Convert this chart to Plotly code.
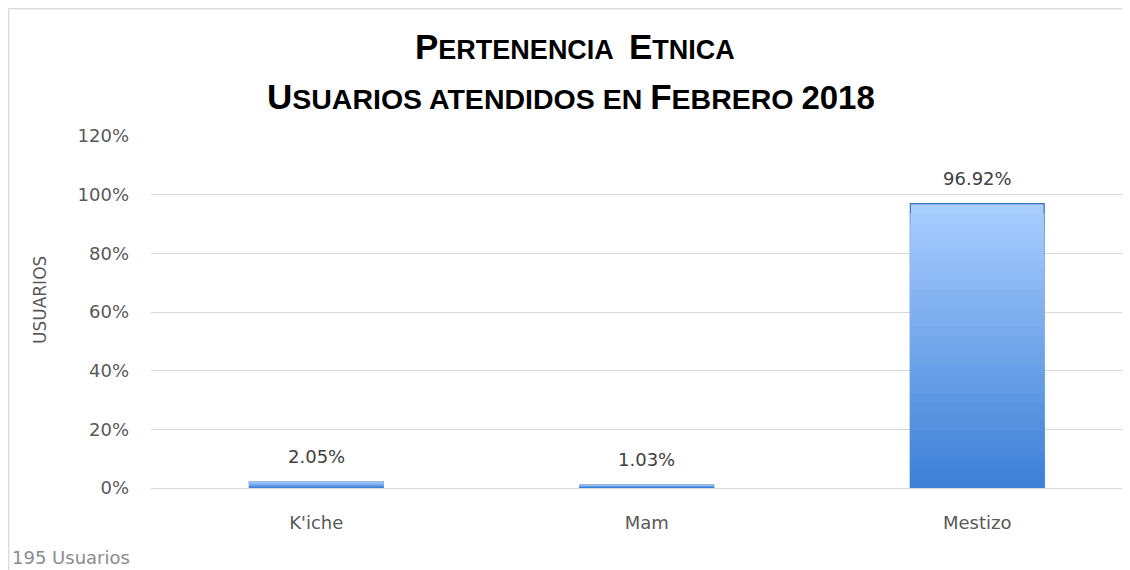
import plotly.graph_objects as go

categories = ["K'iche", "Mam", "Mestizo"]
values = [0.0205, 0.0103, 0.9692]
labels = ["2.05%", "1.03%", "96.92%"]
y_ticks = [0, 0.2, 0.4, 0.6, 0.8, 1.0, 1.2]
y_tick_text = ["0%", "20%", "40%", "60%", "80%", "100%", "120%"]
total_note = "195 Usuarios"

# plot-area geometry (pixels inside the figure)
L, R, T, B = 143, 1130, 128, 480
W, H = R - L, B - T
def px(x):
    return (x - L) / W
def py(y):
    return (B - y) / H

top_rgb = (168, 205, 255)
bot_rgb = (62, 128, 214)
N = 30

fig = go.Figure()
for k in range(N):
    frac = (N - k) / N
    t = k / (N - 1)
    c = tuple(round(top_rgb[i] + (bot_rgb[i] - top_rgb[i]) * t) for i in range(3))
    first = k == 0
    fig.add_trace(go.Bar(
        x=categories,
        y=[v * frac for v in values],
        width=0.405,
        marker=dict(color="rgb(%d,%d,%d)" % c,
                    line=dict(color="#3d6fb3" if first else "rgba(0,0,0,0)",
                              width=1.2 if first else 0)),
        showlegend=False,
        hoverinfo="skip" if not first else None,
    ))

annotations = []
for cat, v, lab in zip(categories, values, labels):
    annotations.append(dict(
        x=cat, y=v, text=lab, xref="x", yref="y", showarrow=False,
        yanchor="middle", yshift=25,
        font=dict(family="DejaVu Sans", size=18, color="#404040"),
    ))

big = "font-size:35px"
big2 = "font-size:33px"
annotations += [
    dict(text=("<b><span style='%s'>P</span>ERTENENCIA&nbsp; <span style='%s'>E</span>TNICA</b>" % (big, big)),
         xref="paper", yref="paper", x=px(567), y=py(39), xanchor="center", yanchor="middle",
         showarrow=False, font=dict(family="Liberation Sans", size=27, color="#000000")),
    dict(text=("<b><span style='%s'>U</span>SUARIOS ATENDIDOS EN <span style='%s'>F</span>EBRERO "
               "<span style='%s'>2018</span></b>" % (big, big, big2)),
         xref="paper", yref="paper", x=px(563), y=py(89), xanchor="center", yanchor="middle",
         showarrow=False, font=dict(family="Liberation Sans", size=28.5, color="#000000")),
    dict(text="USUARIOS", xref="paper", yref="paper", x=px(32), y=py(292),
         xanchor="center", yanchor="middle", textangle=-90, showarrow=False,
         font=dict(family="DejaVu Sans", size=17, color="#595959")),
    dict(text=total_note, xref="paper", yref="paper", x=px(2), y=py(549),
         xanchor="left", yanchor="middle", showarrow=False,
         font=dict(family="DejaVu Sans", size=18, color="#8c8c8c")),
]

fig.update_layout(
    width=1130, height=570,
    barmode="overlay",
    paper_bgcolor="white", plot_bgcolor="white",
    margin=dict(l=L, r=1130 - R, t=T, b=570 - B, autoexpand=False),
    xaxis=dict(
        range=[-0.5, -0.5 + W / 330.5],
        showgrid=False, showline=False, zeroline=False,
        tickfont=dict(family="DejaVu Sans", size=18, color="#595959"),
        ticklabelstandoff=22,
    ),
    yaxis=dict(
        range=[0, 1.2],
        tickvals=y_ticks, ticktext=y_tick_text,
        showgrid=True, gridcolor="#d9d9d9", gridwidth=1,
        zeroline=True, zerolinecolor="#d9d9d9", zerolinewidth=1,
        showline=False,
        tickfont=dict(family="DejaVu Sans", size=18, color="#595959"),
        ticklabelstandoff=21,
    ),
    annotations=annotations,
    shapes=[
        dict(type="line", xref="paper", yref="paper",
             x0=px(0.5), x1=1.0, y0=py(0.5), y1=py(0.5),
             line=dict(color="#d9d9d9", width=1.5)),
        dict(type="line", xref="paper", yref="paper",
             x0=px(0.5), x1=px(0.5), y0=py(0.5), y1=py(572),
             line=dict(color="#d9d9d9", width=1.5)),
    ],
)

fig.write_html("out.html")
